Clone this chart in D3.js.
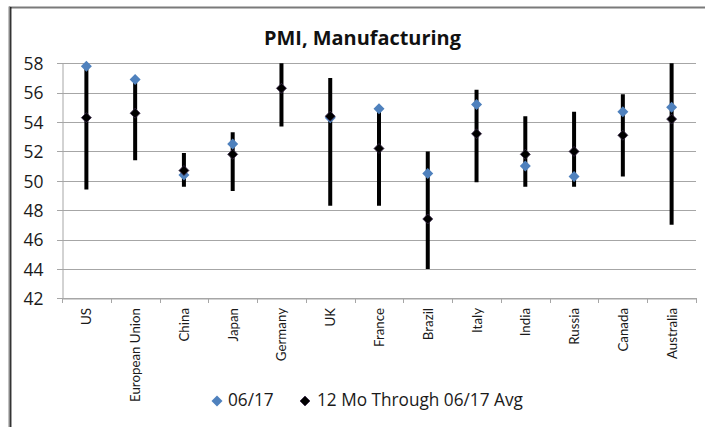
<!DOCTYPE html>
<html><head><meta charset="utf-8">
<script src="https://cdn.jsdelivr.net/npm/d3@7"></script>
<style>
body{margin:0;background:#fff;}
svg{display:block;font-family:"Open Sans",Lato,sans-serif;}
</style></head>
<body><svg id="c" width="705" height="427"></svg>
<script>
const categories = ["US","European Union","China","Japan","Germany","UK","France","Brazil","Italy","India","Russia","Canada","Australia"];
const current = [57.8,56.9,50.4,52.5,59.6,54.3,54.9,50.5,55.2,51.0,50.3,54.7,55.0];
const avg12 = [54.3,54.6,50.7,51.8,56.3,54.4,52.2,47.4,53.2,51.8,52.0,53.1,54.2];
const low12 = [49.4,51.4,49.6,49.3,53.7,48.3,48.3,44.0,49.9,49.6,49.6,50.3,47.0];
const high12 = [57.8,56.9,51.9,53.3,58.5,57.0,54.9,52.0,56.2,54.4,54.7,55.9,59.8];
const yTicks = [42,44,46,48,50,52,54,56,58];
const seriesNames = ["06/17","12 Mo Through 06/17 Avg"];

const svg = d3.select("#c");
const L=62,R=696,T=63.3,B=298.3;
const x = d3.scaleBand().domain(categories).range([L,R]).padding(0);
const y = d3.scaleLinear().domain([42,58]).range([B,T]);

function fitSize(node, target){
  const w = node.getComputedTextLength();
  const fs = parseFloat(node.getAttribute("font-size"));
  return fs*target/w;
}

// frame
svg.append("line").attr("x1",9).attr("x2",705).attr("y1",7.5).attr("y2",7.5).attr("stroke","#7a7a7a").attr("stroke-width",2);
svg.append("line").attr("x1",9.5).attr("x2",9.5).attr("y1",6.5).attr("y2",427).attr("stroke","#888").attr("stroke-width",2);
svg.append("line").attr("x1",10.8).attr("x2",10.8).attr("y1",7).attr("y2",427).attr("stroke","#111").attr("stroke-width",1.2);

const defs = svg.append("defs");
defs.append("clipPath").attr("id","pc").append("rect")
  .attr("x",L-10).attr("y",T).attr("width",R-L+20).attr("height",B-T);
defs.append("clipPath").attr("id","pm").append("rect")
  .attr("x",L-10).attr("y",T-7).attr("width",R-L+20).attr("height",B-T+14);

// gridlines
svg.append("g").selectAll("line").data(yTicks).join("line")
  .attr("x1",L-5).attr("x2",R).attr("y1",d=>Math.round(y(d))+0.5).attr("y2",d=>Math.round(y(d))+0.5)
  .attr("stroke","#a6a6a6").attr("stroke-width",1);

// y axis
const ya = svg.append("g").attr("transform",`translate(${L+0.5},0)`)
  .call(d3.axisLeft(y).tickValues(yTicks).tickSize(0).tickPadding(19).tickFormat(d3.format("d")));
ya.select(".domain").attr("stroke","#a6a6a6");
ya.selectAll("text").attr("font-size",14).attr("fill","#1a1a1a").attr("font-family","'Open Sans',sans-serif").attr("dy","0.36em");
{
  const n = ya.selectAll("text").nodes()[0];
  ya.selectAll("text").attr("font-size",fitSize(n, 20));
}

// x axis
const xa = svg.append("g").attr("transform",`translate(0,${Math.round(B)+0.5})`)
  .call(d3.axisBottom(x).tickSize(0).tickFormat(""));
xa.select(".domain").attr("stroke","#a6a6a6");
svg.append("g").selectAll("line").data(d3.range(categories.length+1)).join("line")
  .attr("x1",i=>Math.round(L+i*x.bandwidth())+0.5).attr("x2",i=>Math.round(L+i*x.bandwidth())+0.5)
  .attr("y1",Math.round(B)).attr("y2",Math.round(B)+5).attr("stroke","#a6a6a6");

const cl = svg.append("g").selectAll("text").data(categories).join("text")
  .attr("transform",d=>`translate(${x(d)+x.bandwidth()/2+5},308) rotate(-90)`)
  .attr("text-anchor","end").attr("font-size",13).attr("font-family","Lato,sans-serif")
  .attr("fill","#1a1a1a").text(d=>d);
cl.attr("font-size",fitSize(cl.nodes()[1], 94));

const cx = d=>x(d)+x.bandwidth()/2;
const bars = svg.append("g").attr("clip-path","url(#pc)");
bars.selectAll("line.rng").data(categories).join("line").attr("class","rng")
  .attr("x1",cx).attr("x2",cx)
  .attr("y1",(d,i)=>y(low12[i])).attr("y2",(d,i)=>y(high12[i]))
  .attr("stroke","#000").attr("stroke-width",4);

const marks = svg.append("g").attr("clip-path","url(#pm)");
const diamond = s=>`M0,${-s}L${s},0L0,${s}L${-s},0Z`;
marks.selectAll("path.cur").data(categories).join("path").attr("class","cur")
  .attr("transform",(d,i)=>`translate(${cx(d)},${y(current[i])})`)
  .attr("d",diamond(5.5)).attr("fill","#4F81BD");
marks.selectAll("path.avg").data(categories).join("path").attr("class","avg")
  .attr("transform",(d,i)=>`translate(${cx(d)},${y(avg12[i])})`)
  .attr("d",diamond(5)).attr("fill","#000").attr("stroke","#3b2a4a").attr("stroke-width",0.8);

// title
const tt = svg.append("text").attr("x",362.5).attr("y",45).attr("text-anchor","middle")
  .attr("font-size",16).attr("font-weight","bold").attr("fill","#111").text("PMI, Manufacturing");
tt.attr("font-size",fitSize(tt.node(),197));

// legend
const lg = svg.append("g");
lg.append("path").attr("transform","translate(217,401)").attr("d",diamond(5.5)).attr("fill","#4F81BD");
const l1 = lg.append("text").attr("x",228).attr("y",406).attr("font-size",14).attr("fill","#1a1a1a").text(seriesNames[0]);
lg.append("path").attr("transform","translate(305,401)").attr("d",diamond(5)).attr("fill","#000").attr("stroke","#3b2a4a").attr("stroke-width",0.8);
const l2 = lg.append("text").attr("x",317).attr("y",406).attr("font-size",14).attr("fill","#1a1a1a").text(seriesNames[1]);
{
  const fs = fitSize(l2.node(),206);
  l1.attr("font-size",fs); l2.attr("font-size",fs);
}
</script></body></html>
